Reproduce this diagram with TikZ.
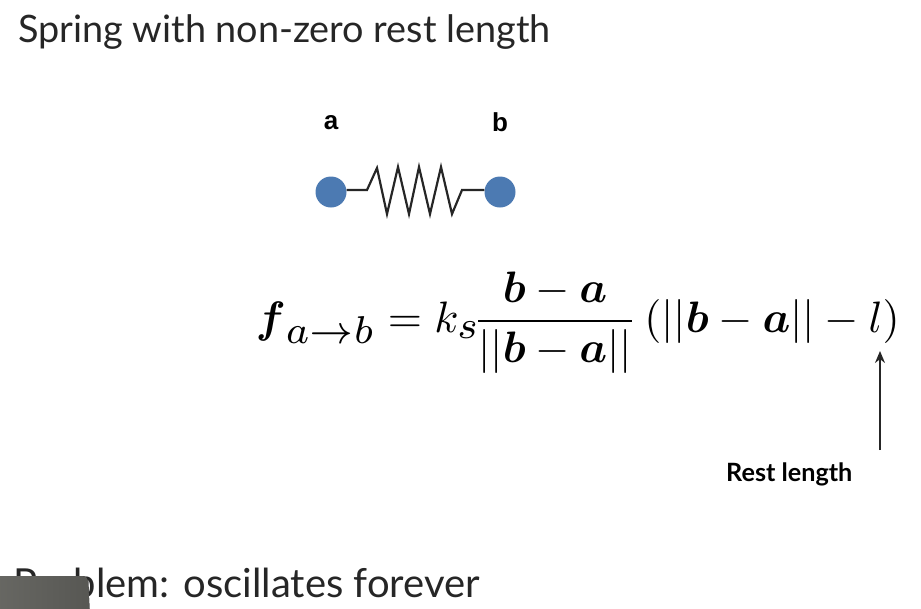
\documentclass[tikz,border=0pt]{standalone}
\usepackage{amsmath}
\usepackage{fontspec}
\usetikzlibrary{arrows.meta}
\setmainfont{Lato}
\newfontfamily\labelfont{Liberation Sans}
\newcommand{\bigsub}[1]{\scalebox{1.26}{$\scriptstyle #1$}}
\begin{document}
\begin{tikzpicture}[
    x=1pt, y=-1pt,
    heading/.style={inner sep=0pt, text=black!85},
    dotlabel/.style={inner sep=0pt, font=\labelfont\bfseries\fontsize{26}{28}\selectfont},
    dot/.style={circle, fill=dotblue, minimum size=31pt, inner sep=0pt},
    spring/.style={line width=2.2pt, black!85, line join=miter},
    arrow/.style={-{Stealth[length=12pt, width=10pt]}, line width=1.6pt, black!85}
]
    \definecolor{dotblue}{HTML}{4C7AB2}
    \definecolor{patchgray}{HTML}{74746F}
    \useasboundingbox (0,0) rectangle (921,608);

    % Ueberschriften
    \node[heading, anchor=base west, font=\fontsize{37.8}{42}\selectfont] (title) at (18,42) {Spring with non-zero rest length};
    \node[heading, anchor=base east, font=\fontsize{40}{44}\selectfont] (problem) at (480,597) {Problem: oscillates forever};

    % Feder
    \node[dot] (a) at (331,192) {};
    \node[dot] (b) at (500,192) {};
    \node[dotlabel] (alabel) at (331,123) {a};
    \node[dotlabel] (blabel) at (500,122) {b};
    \draw[spring] ([yshift=2pt]a.east) -- (367,190) -- (377,168) -- (387,214) -- (398,167) -- (409,214)
        -- (419,167) -- (430,214) -- (441,167) -- (452,214) -- (462,190) -- ([yshift=2pt]b.west);

    % Formel
    \node[inner sep=0pt, scale=4.4, anchor=base west] (force) at (255,332)
        {$\boldsymbol{f}_{\bigsub{a\to b}} = k_{\bigsub{s}} \mkern-3mu \dfrac{\boldsymbol{b}-\boldsymbol{a}}{||\boldsymbol{b}-\boldsymbol{a}||}\,(||\boldsymbol{b}-\boldsymbol{a}||-l)$};

    % Ruhelaenge
    \node[heading, text=black, anchor=base west, font=\bfseries\fontsize{25.2}{28}\selectfont] (rest) at (726,481) {Rest length};
    \coordinate (reststart) at (880,450);
    \coordinate (restend) at (880,351);
    \draw[arrow] (reststart) -- (restend);

    % Abdeckung unten links
    \fill[left color=patchgray!90!black, middle color=patchgray!90!white, right color=patchgray!75!black, rounded corners=5pt]
        (-10,576) -- (88,576) -- (90,620) -- (-10,620) -- cycle;
\end{tikzpicture}
\end{document}
